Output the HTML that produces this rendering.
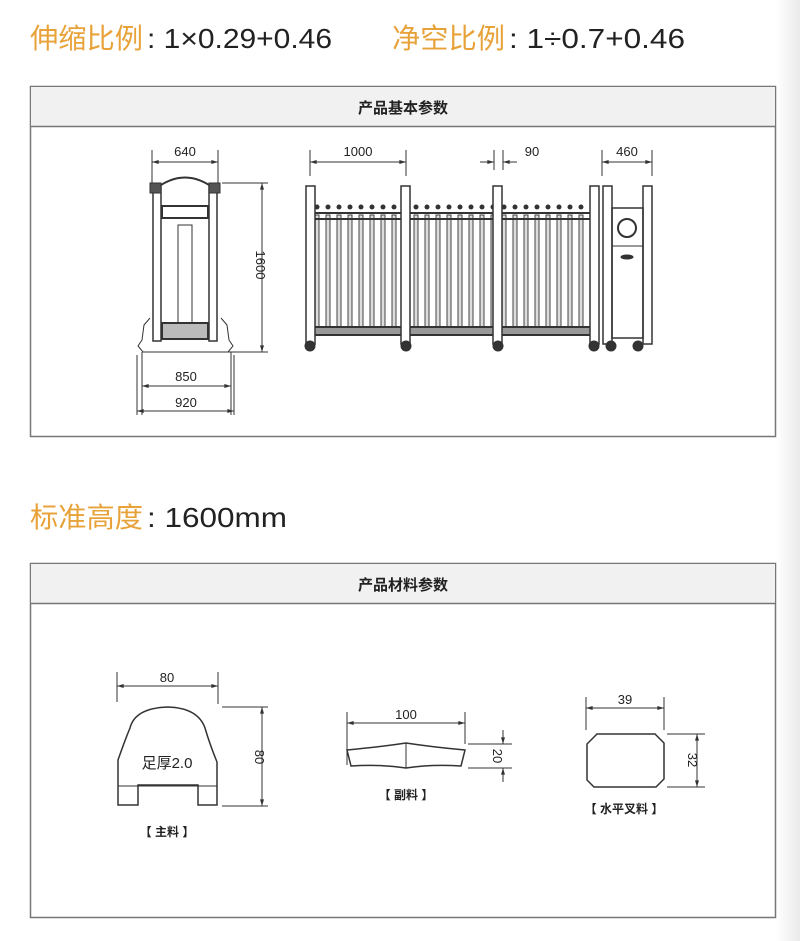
<!DOCTYPE html>
<html><head><meta charset="utf-8"><style>
html,body{margin:0;padding:0;background:#fff}
body{width:800px;height:941px;overflow:hidden;position:relative;font-family:"Liberation Sans","Noto Sans CJK SC",sans-serif}
.rg{position:absolute;right:0;top:0;width:24px;height:941px;background:linear-gradient(to right,#fff,#eaeaea)}
</style></head><body>
<div class="rg"></div>
<svg width="800" height="941" viewBox="0 0 800 941" xmlns="http://www.w3.org/2000/svg" style="position:absolute;left:0;top:0" font-family="Liberation Sans, Noto Sans CJK SC, sans-serif">
<defs>
<marker id="a" viewBox="0 0 10 6" refX="10" refY="3" markerWidth="7" markerHeight="4" orient="auto-start-reverse"><path d="M0,0L10,3L0,6z" fill="#333"/></marker>
<pattern id="pk" x="313" y="0" width="11" height="941" patternUnits="userSpaceOnUse">
<rect x="2" y="215" width="4" height="118" fill="#ddd" stroke="#444" stroke-width="1"/>
<circle cx="4" cy="207" r="2.5" fill="#333"/>
</pattern>
</defs>
<!-- titles -->
<text x="30" y="48" font-size="28" fill="#e8a23a" textLength="113" lengthAdjust="spacingAndGlyphs">伸缩比例</text>
<text x="147" y="48" font-size="28" fill="#222" textLength="185" lengthAdjust="spacingAndGlyphs">: 1×0.29+0.46</text>
<text x="392" y="48" font-size="28" fill="#e8a23a" textLength="113" lengthAdjust="spacingAndGlyphs">净空比例</text>
<text x="509" y="48" font-size="28" fill="#222" textLength="176" lengthAdjust="spacingAndGlyphs">: 1÷0.7+0.46</text>
<text x="30" y="527" font-size="28" fill="#e8a23a" textLength="113" lengthAdjust="spacingAndGlyphs">标准高度</text>
<text x="147" y="527" font-size="28" fill="#222" textLength="140" lengthAdjust="spacingAndGlyphs">: 1600mm</text>
<!-- box 1 -->
<rect x="30.5" y="86.5" width="745" height="350" fill="#fff" stroke="#777" stroke-width="1.5"/>
<rect x="31" y="87" width="744" height="39" fill="#f1f1f1"/>
<line x1="30" y1="126.5" x2="776" y2="126.5" stroke="#777" stroke-width="1.5"/>
<text x="403" y="113" font-size="15" text-anchor="middle" fill="#222" font-weight="bold">产品基本参数</text>
<!-- box 2 -->
<rect x="30.5" y="563.5" width="745" height="354" fill="#fff" stroke="#777" stroke-width="1.5"/>
<rect x="31" y="564" width="744" height="39" fill="#f1f1f1"/>
<line x1="30" y1="603.5" x2="776" y2="603.5" stroke="#777" stroke-width="1.5"/>
<text x="403" y="590" font-size="15" text-anchor="middle" fill="#222" font-weight="bold">产品材料参数</text>

<g stroke="#333" stroke-width="1" fill="none" font-size="13">
<!-- side view -->
<line x1="152" y1="150" x2="152" y2="185"/><line x1="218" y1="150" x2="218" y2="185"/>
<line x1="152" y1="162" x2="218" y2="162" marker-start="url(#a)" marker-end="url(#a)"/>
<text x="185" y="156" text-anchor="middle" fill="#222" stroke="none">640</text>
<line x1="222" y1="183" x2="268" y2="183"/><line x1="222" y1="352" x2="268" y2="352"/>
<line x1="262" y1="183" x2="262" y2="352" marker-start="url(#a)" marker-end="url(#a)"/>
<text transform="translate(256,265) rotate(90)" text-anchor="middle" fill="#222" stroke="none">1600</text>
<path d="M154,190 Q185,165 216,190" stroke-width="2"/>
<rect x="153" y="186" width="8" height="155" stroke-width="1.5"/>
<rect x="209" y="186" width="8" height="155" stroke-width="1.5"/>
<rect x="150" y="183" width="11" height="10" fill="#555"/><rect x="209" y="183" width="11" height="10" fill="#555"/>
<rect x="162" y="206" width="46" height="12" stroke-width="2"/>
<rect x="178" y="225" width="14" height="100"/>
<rect x="162" y="323" width="46" height="16" stroke-width="2" fill="#bbb"/>
<path d="M150,318 L144,325 L142,340 L138,346 L143,352 L228,352 L233,346 L229,340 L227,325 L221,318"/>
<line x1="142" y1="352" x2="142" y2="415"/><line x1="231" y1="352" x2="231" y2="415"/>
<line x1="137" y1="355" x2="137" y2="415"/><line x1="234" y1="355" x2="234" y2="415"/>
<line x1="142" y1="386" x2="231" y2="386" marker-start="url(#a)" marker-end="url(#a)"/>
<text x="186" y="381" text-anchor="middle" fill="#222" stroke="none">850</text>
<line x1="137" y1="411" x2="234" y2="411" marker-start="url(#a)" marker-end="url(#a)"/>
<text x="186" y="407" text-anchor="middle" fill="#222" stroke="none">920</text>

<!-- gate dims -->
<line x1="310" y1="150" x2="310" y2="176"/><line x1="406" y1="150" x2="406" y2="176"/>
<line x1="310" y1="162" x2="406" y2="162" marker-start="url(#a)" marker-end="url(#a)"/>
<text x="358" y="156" text-anchor="middle" fill="#222" stroke="none">1000</text>
<line x1="494" y1="150" x2="494" y2="170"/><line x1="503" y1="150" x2="503" y2="170"/>
<line x1="480" y1="162" x2="494" y2="162" marker-end="url(#a)"/><line x1="517" y1="162" x2="503" y2="162" marker-end="url(#a)"/>
<text x="532" y="156" text-anchor="middle" fill="#222" stroke="none">90</text>
<line x1="602" y1="150" x2="602" y2="176"/><line x1="652" y1="150" x2="652" y2="176"/>
<line x1="602" y1="162" x2="652" y2="162" marker-start="url(#a)" marker-end="url(#a)"/>
<text x="627" y="156" text-anchor="middle" fill="#222" stroke="none">460</text>
</g>
<!-- gate -->
<rect x="313" y="200" width="279" height="140" fill="url(#pk)"/>
<g stroke="#333" fill="none">
<rect x="313" y="213" width="280" height="6" stroke-width="2"/>
<rect x="313" y="327" width="280" height="8" stroke-width="2" fill="#999"/>
<g fill="#fff" stroke-width="1.5">
<rect x="306" y="186" width="9" height="158"/>
<rect x="401" y="186" width="9" height="158"/>
<rect x="493" y="186" width="9" height="158"/>
<rect x="590" y="186" width="9" height="158"/>
<rect x="603" y="186" width="9" height="158"/>
<rect x="643" y="186" width="9" height="158"/>
</g>
<rect x="612" y="208" width="31" height="130" stroke-width="1.5"/>
<line x1="612" y1="246" x2="643" y2="246"/>
<circle cx="627" cy="228" r="9" stroke-width="2"/>
<ellipse cx="627" cy="257" rx="6" ry="2" fill="#333"/>
<g fill="#333">
<circle cx="310" cy="346" r="5"/><circle cx="406" cy="346" r="5"/><circle cx="498" cy="346" r="5"/><circle cx="594" cy="346" r="5"/><circle cx="611" cy="346" r="5"/><circle cx="638" cy="346" r="5"/>
</g>
</g>

<!-- materials -->
<g stroke="#333" stroke-width="1" fill="none" font-size="13">
<line x1="117" y1="672" x2="117" y2="702"/><line x1="218" y1="672" x2="218" y2="704"/>
<line x1="117" y1="686" x2="218" y2="686" marker-start="url(#a)" marker-end="url(#a)"/>
<text x="167" y="682" text-anchor="middle" fill="#222" stroke="none">80</text>
<line x1="222" y1="707" x2="268" y2="707"/><line x1="222" y1="806" x2="268" y2="806"/>
<line x1="262" y1="707" x2="262" y2="806" marker-start="url(#a)" marker-end="url(#a)"/>
<text transform="translate(255,757) rotate(90)" text-anchor="middle" fill="#222" stroke="none">80</text>
<path d="M118,805 L118,760 Q125,740 130,728 Q135,708 168,707 Q198,708 205,728 Q210,745 217,762 L217,805 L198,805 L198,785 L138,785 L138,805 Z" stroke-width="1.5"/>
<line x1="118" y1="786" x2="217" y2="786"/>
<text x="167" y="768" text-anchor="middle" fill="#222" stroke="none" font-size="15">足厚2.0</text>
<text x="167" y="836" text-anchor="middle" fill="#222" stroke="none" font-size="12" font-weight="bold">【 主料 】</text>

<line x1="347" y1="712" x2="347" y2="765"/><line x1="465" y1="712" x2="465" y2="744"/>
<line x1="347" y1="723" x2="465" y2="723" marker-start="url(#a)" marker-end="url(#a)"/>
<text x="406" y="719" text-anchor="middle" fill="#222" stroke="none">100</text>
<path d="M347,750 Q380,747 406,743 Q432,747 465,750 L461,766 Q432,764 406,768 Q380,764 351,766 Z" stroke-width="1.5"/>
<line x1="406" y1="743" x2="406" y2="768"/>
<line x1="468" y1="744" x2="512" y2="744"/><line x1="468" y1="768" x2="512" y2="768"/>
<line x1="503" y1="730" x2="503" y2="744" marker-end="url(#a)"/><line x1="503" y1="782" x2="503" y2="768" marker-end="url(#a)"/>
<text transform="translate(493,756) rotate(90)" text-anchor="middle" fill="#222" stroke="none">20</text>
<text x="406" y="799" text-anchor="middle" fill="#222" stroke="none" font-size="12" font-weight="bold">【 副料 】</text>

<line x1="586" y1="697" x2="586" y2="730"/><line x1="664" y1="697" x2="664" y2="730"/>
<line x1="586" y1="708" x2="664" y2="708" marker-start="url(#a)" marker-end="url(#a)"/>
<text x="625" y="704" text-anchor="middle" fill="#222" stroke="none">39</text>
<path d="M597,734 L655,734 L664,743 L664,779 L656,787 L594,787 L587,780 L587,744 Z" stroke-width="1.5"/>
<line x1="667" y1="734" x2="705" y2="734"/><line x1="667" y1="787" x2="705" y2="787"/>
<line x1="697" y1="734" x2="697" y2="787" marker-start="url(#a)" marker-end="url(#a)"/>
<text transform="translate(688,760) rotate(90)" text-anchor="middle" fill="#222" stroke="none">32</text>
<text x="624" y="813" text-anchor="middle" fill="#222" stroke="none" font-size="12" font-weight="bold">【 水平叉料 】</text>
</g>
</svg>
</body></html>
